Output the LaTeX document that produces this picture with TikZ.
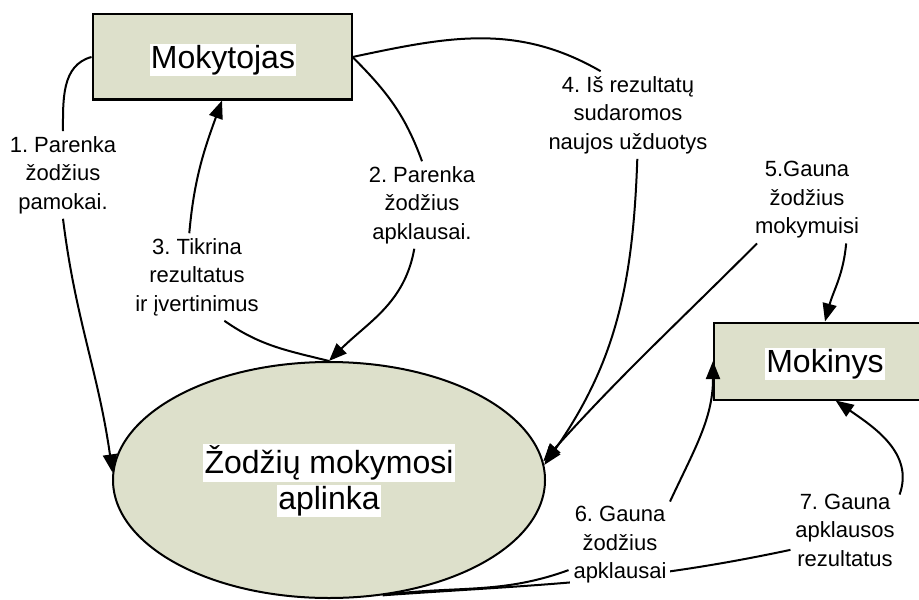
\documentclass[tikz,border=0pt]{standalone}
\usepackage{fontspec}
\setmainfont{Liberation Sans}
\frenchspacing
\usetikzlibrary{shapes.geometric,arrows.meta}
\definecolor{sage}{RGB}{221,224,203}
\pgfdeclarelayer{back}
\pgfsetlayers{back,main}

\begin{document}
\begin{tikzpicture}
[x=0.5pt, y=-0.5pt,
actor/.style={draw, line width=1pt, fill=sage, inner sep=0pt},
actortext/.style={fill=white, inner sep=0.6pt, font=\fontsize{16}{18}\selectfont},
flowtext/.style={fill=white, align=center, inner sep=2pt, font=\fontsize{11}{14.25}\selectfont},
arr/.style={-{Triangle[length=9pt,width=7pt]}}
]
\tikzset{every path/.style={line width=1pt}}
%\tikzset{flow/.style={draw,line width=1pt,-}}
\useasboundingbox (0,0) rectangle (919,599);

\node[actor, minimum width=129.5pt, minimum height=42.5pt] (mok) at (222,57) {};
\node[actortext] (mokT) at (223,60) {Mokytojas};
\node[actor, minimum width=111pt, minimum height=38.5pt] (mokin) at (825,361) {};
\node[actortext] (mokinT) at (825,364) {Mokinys};
\node[actor, ellipse, minimum width=216pt, minimum height=118pt] (env) at (329,480) {};
\node[actortext] (envA) at (329,463) {Žodžių mokymosi};
\node[actortext] (envB) at (329,501) {aplinka};

\node[flowtext] (l1) at (63,175) {1. Parenka\\žodžius\\pamokai.};
\node[flowtext] (l2) at (422,205) {2. Parenka\\žodžius\\apklausai.};
\node[flowtext] (l3) at (197,277) {3. Tikrina\\rezultatus\\ir įvertinimus};
\node[flowtext] (l4) at (628,115) {4. Iš rezultatų\\sudaromos\\naujos užduotys};
\node[flowtext] (l5) at (807,200) {5.Gauna\\žodžius\\mokymuisi};
\node[flowtext] (l6) at (620,545) {6. Gauna\\žodžius\\apklausai};
\node[flowtext] (l7) at (845,530) {7. Gauna\\apklausos\\rezultatus};

\draw (mok.west) to[out=195,in=90] (l1.north);
\draw[arr] (l1.south) to[out=-83,in=98] (env.178);
\draw (mok.east) to[out=-45,in=110] (l2.north);
\draw[arr] (l2.-100) to[out=-100,in=45] (env.north);
\draw (env.north) to[out=166,in=-35] (l3.-58);
\draw[arr] (l3.100) to[out=85,in=-110] (mok.south);
\draw (mok.east) to[out=12,in=150] (l4.122);
\draw[arr] (l4.-78) to[out=-92,in=55] (env.4);
\draw[arr] (l5.-139) to[out=-135,in=48] (env.5);
\draw[arr] (l5.-48) to[out=-95,in=75] (mokin.north);
\draw[arr] (l6.41) to[out=65,in=-90] (mokin.west);
\draw (env.-65) to[out=8,in=200] (l6.206);
\begin{pgfonlayer}{back}
\draw (env.-65) to[out=4,in=192] (l7.200);
\end{pgfonlayer}
\draw[arr] (l7.33) to[out=70,in=-35] (mokin.-75);
\end{tikzpicture}
\end{document}
